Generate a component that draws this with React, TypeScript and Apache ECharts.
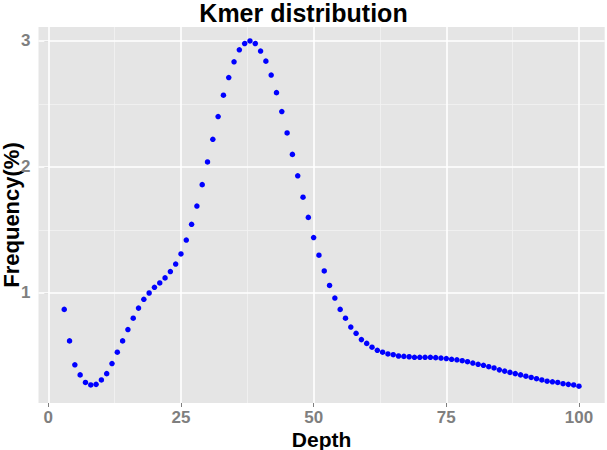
import React, { useEffect, useRef } from "react";
import * as echarts from "echarts";

const depth = [
  3, 4, 5, 6, 7, 8, 9, 10, 11, 12, 13, 14, 15, 16, 17, 18, 19, 20, 21, 22,
  23, 24, 25, 26, 27, 28, 29, 30, 31, 32, 33, 34, 35, 36, 37, 38, 39, 40, 41, 42,
  43, 44, 45, 46, 47, 48, 49, 50, 51, 52, 53, 54, 55, 56, 57, 58, 59, 60, 61, 62,
  63, 64, 65, 66, 67, 68, 69, 70, 71, 72, 73, 74, 75, 76, 77, 78, 79, 80, 81, 82,
  83, 84, 85, 86, 87, 88, 89, 90, 91, 92, 93, 94, 95, 96, 97, 98, 99, 100,
];

const frequency = [
  0.87, 0.62, 0.43, 0.35, 0.29, 0.27, 0.275, 0.31, 0.36, 0.44,
  0.53, 0.62, 0.71, 0.8, 0.88, 0.95, 1.0, 1.045, 1.08, 1.12,
  1.17, 1.23, 1.31, 1.42, 1.545, 1.69, 1.86, 2.04, 2.22, 2.4,
  2.57, 2.71, 2.835, 2.93, 2.98, 3.0, 2.98, 2.92, 2.84, 2.73,
  2.59, 2.44, 2.27, 2.1, 1.93, 1.76, 1.6, 1.44, 1.3, 1.175,
  1.06, 0.96, 0.87, 0.8, 0.73, 0.68, 0.63, 0.6, 0.57, 0.545,
  0.53, 0.516, 0.51, 0.5, 0.497, 0.494, 0.49, 0.49, 0.49, 0.49,
  0.487, 0.484, 0.48, 0.474, 0.47, 0.463, 0.455, 0.444, 0.434, 0.426,
  0.415, 0.405, 0.39, 0.38, 0.37, 0.36, 0.35, 0.34, 0.33, 0.32,
  0.31, 0.3, 0.295, 0.29, 0.28, 0.275, 0.27, 0.26,
];

const xTicks = [0, 25, 50, 75, 100];
const xMinor = [12.5, 37.5, 62.5, 87.5];
const yTicks = [1, 2, 3];
const yMinor = [1.5, 2.5];

const FONT = "'Liberation Sans', Arial, Helvetica, sans-serif";

export default function App() {
  const ref = useRef<HTMLDivElement>(null);

  useEffect(() => {
    document.body.style.margin = "0";
    if (!ref.current) return;
    const chart = echarts.init(ref.current, null, { renderer: "svg" });

    const points = depth.map((d, i) => [d, frequency[i]]);

    const gridLines = [
      ...xMinor.map((v) => ({ xAxis: v, lineStyle: { color: "#F2F2F2", width: 0.8 } })),
      ...yMinor.map((v) => ({ yAxis: v, lineStyle: { color: "#F2F2F2", width: 0.8 } })),
      ...xTicks.map((v) => ({ xAxis: v, lineStyle: { color: "#FFFFFF", width: 1.6 } })),
      ...yTicks.map((v) => ({ yAxis: v, lineStyle: { color: "#FFFFFF", width: 1.6 } })),
    ];

    chart.setOption({
      animation: false,
      backgroundColor: "#FFFFFF",
      title: {
        text: "Kmer distribution",
        left: "center",
        top: 0,
        padding: 0,
        textStyle: {
          fontFamily: FONT,
          fontWeight: "bold",
          fontSize: 25,
          color: "#000000",
        },
      },
      grid: {
        left: 38.5,
        right: 2.3,
        top: 27,
        bottom: 47,
        show: true,
        containLabel: false,
        outerBoundsMode: "none",
        backgroundColor: "#E5E5E5",
        borderWidth: 0,
      },
      xAxis: {
        type: "value",
        min: -1.85,
        max: 104.85,
        name: "Depth",
        nameLocation: "middle",
        nameGap: 26,
        nameMoveOverlap: false,
        nameTextStyle: {
          fontFamily: FONT,
          fontWeight: "bold",
          fontSize: 21,
          color: "#000000",
        },
        axisLine: { show: false },
        axisTick: {
          show: true,
          length: 4,
          customValues: xTicks,
          lineStyle: { color: "#7F7F7F", width: 1 },
        },
        axisLabel: {
          customValues: xTicks,
          margin: 6,
          fontFamily: FONT,
          fontWeight: "bold",
          fontSize: 17,
          color: "#7F7F7F",
        },
        splitLine: { show: false },
      },
      yAxis: {
        type: "value",
        min: 0.127,
        max: 3.111,
        name: "Frequency(%)",
        nameLocation: "middle",
        nameGap: 16,
        nameMoveOverlap: false,
        nameTextStyle: {
          fontFamily: FONT,
          fontWeight: "bold",
          fontSize: 22,
          color: "#000000",
        },
        axisLine: { show: false },
        axisTick: {
          show: true,
          length: 4,
          customValues: yTicks,
          lineStyle: { color: "#7F7F7F", width: 1 },
        },
        axisLabel: {
          customValues: yTicks,
          margin: 8,
          fontFamily: FONT,
          fontWeight: "bold",
          fontSize: 17,
          color: "#7F7F7F",
        },
        splitLine: { show: false },
      },
      series: [
        {
          type: "scatter",
          data: [],
          silent: true,
          z: 1,
          markLine: {
            silent: true,
            z: 1,
            symbol: ["none", "none"],
            label: { show: false },
            emphasis: { disabled: true },
            lineStyle: { type: "solid" },
            data: gridLines,
          },
        },
        {
          type: "scatter",
          data: points,
          symbol: "circle",
          symbolSize: 5.5,
          z: 3,
          itemStyle: { color: "#0000FF", opacity: 1 },
        },
      ],
    });

    return () => chart.dispose();
  }, []);

  return <div ref={ref} style={{ width: 607, height: 450 }} />;
}
